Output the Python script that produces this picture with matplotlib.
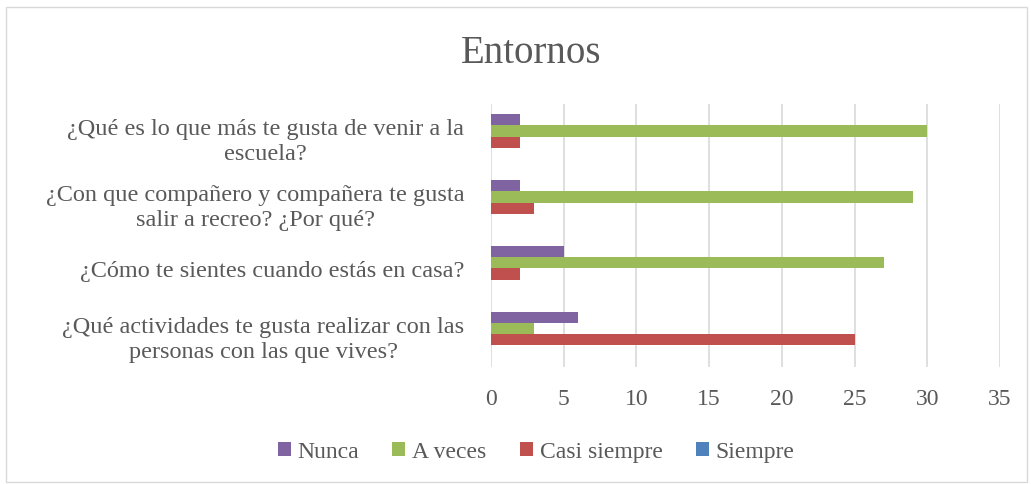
import matplotlib.pyplot as plt
import numpy as np

plt.rcParams['font.family'] = ['Liberation Serif', 'DejaVu Serif']

preguntas = [
    "¿Qué es lo que más te gusta de venir a la\nescuela?",
    "¿Con que compañero y compañera te gusta\nsalir a recreo? ¿Por qué?",
    "¿Cómo te sientes cuando estás en casa?",
    "¿Qué actividades te gusta realizar con las\npersonas con las que vives?",
]
nunca = [2, 2, 5, 6]
a_veces = [30, 29, 27, 3]
casi_siempre = [2, 3, 2, 25]
siempre = [0, 0, 0, 0]
xticks = [0, 5, 10, 15, 20, 25, 30, 35]

series = [
    ("Nunca", nunca, "#8064A2"),
    ("A veces", a_veces, "#9BBB59"),
    ("Casi siempre", casi_siempre, "#C0504D"),
    ("Siempre", siempre, "#4F81BD"),
]

gris = "#595959"
fig = plt.figure(figsize=(10.31, 4.85), dpi=100)
ax = fig.add_axes([0.476, 0.241, 0.494, 0.543])

y = np.arange(len(preguntas))
h = 0.17
for i, (nombre, vals, color) in enumerate(series):
    ax.barh(y + (i - 1.5) * h, vals, height=h, color=color, label=nombre)

ax.set_ylim(len(preguntas) - 0.5, -0.5)
ax.set_yticks(y)
ax.set_yticklabels(preguntas, fontsize=17.5, color=gris, ha="right",
                   multialignment="center", linespacing=1.25)
ax.set_xlim(0, 35)
ax.set_xticks(xticks)
ax.tick_params(axis="x", labelsize=17, colors=gris, length=0, pad=15)
ax.tick_params(axis="y", length=0, pad=19)
ax.grid(axis="x", color="#D9D9D9", linewidth=1.2)
ax.set_axisbelow(True)
for s in ax.spines.values():
    s.set_visible(False)

fig.text(0.515, 0.89, "Entornos", ha="center", va="center", fontsize=28, color=gris)

handles, labels = ax.get_legend_handles_labels()
fig.legend(handles, labels, loc="center", bbox_to_anchor=(0.52, 0.066), ncol=4,
           frameon=False, fontsize=17, labelcolor=gris, handlelength=0.55,
           handleheight=0.55, handletextpad=0.3, columnspacing=1.4)

border = plt.Rectangle((0.006, 0.004), 0.99, 0.98, transform=fig.transFigure,
                       fill=False, edgecolor="#D9D9D9", linewidth=1)
fig.patches.append(border)

fig.savefig("out.png", dpi=100, facecolor="white")
